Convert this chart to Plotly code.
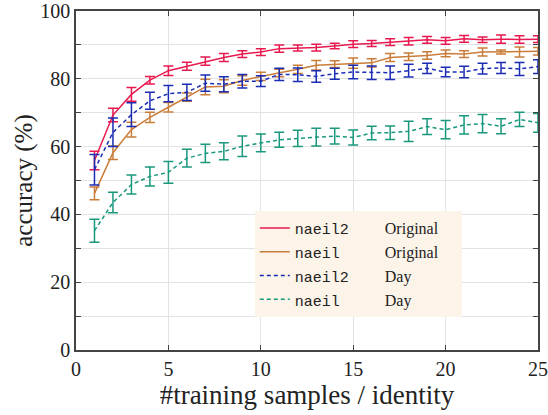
import plotly.graph_objects as go

x_vals = list(range(1, 26))

naeil2_orig = [55.9, 69.3, 75.4, 79.6, 82.4, 83.7, 85.2, 86.3, 87.3, 87.9, 88.9, 89.1, 89.2,
               89.7, 90.2, 90.4, 90.8, 91.1, 91.5, 91.2, 91.8, 91.5, 91.7, 91.6, 91.7]
naeil2_orig_err = [2.7, 2.0, 2.0, 1.1, 1.4, 1.2, 1.2, 1.2, 1.0, 1.0, 1.1, 0.9, 1.0,
                   0.8, 1.0, 0.9, 1.0, 1.1, 1.0, 1.0, 1.0, 0.8, 1.2, 1.1, 1.0]

naeil_orig = [46.2, 58.2, 65.0, 68.6, 71.6, 74.6, 77.6, 77.8, 79.5, 80.7, 81.7, 82.8, 84.0,
              84.3, 84.6, 84.7, 86.3, 86.5, 86.9, 87.5, 87.3, 87.9, 87.9, 87.9, 88.1]
naeil_orig_err = [1.9, 2.0, 2.2, 1.5, 1.4, 1.2, 2.3, 1.9, 1.4, 1.2, 1.1, 1.2, 1.4,
                  1.0, 1.5, 1.2, 1.2, 1.1, 1.1, 1.0, 1.0, 1.2, 0.6, 1.5, 1.1]

naeil2_day = [53.2, 64.2, 69.4, 73.5, 75.6, 76.0, 78.7, 78.4, 79.3, 79.3, 81.3, 81.2, 80.7,
              81.5, 82.0, 81.8, 81.8, 82.4, 83.1, 82.0, 82.0, 83.0, 83.2, 82.9, 83.6]
naeil2_day_err = [4.5, 4.2, 3.5, 2.5, 2.4, 2.4, 2.4, 2.2, 2.0, 1.6, 1.8, 2.0, 1.7,
                  1.6, 2.0, 2.0, 2.0, 1.9, 1.5, 1.4, 1.7, 1.6, 1.6, 1.9, 2.0]

naeil_day = [35.2, 43.5, 48.8, 51.2, 52.4, 56.6, 58.0, 58.6, 60.1, 61.1, 62.0, 62.4, 62.8,
             63.1, 62.7, 64.0, 64.1, 64.5, 65.9, 65.0, 66.4, 66.8, 66.0, 68.0, 67.0]
naeil_day_err = [3.4, 3.0, 2.8, 2.8, 3.2, 2.6, 2.7, 2.5, 3.0, 2.6, 2.2, 2.4, 2.6,
                 2.3, 2.2, 2.0, 2.0, 3.0, 2.3, 2.7, 2.7, 2.7, 2.2, 2.1, 2.8]

series_names = ["naeil2", "naeil", "naeil2", "naeil"]
series_cond = ["Original", "Original", "Day", "Day"]
series_colors = ["#e8194f", "#c97d3a", "#1b2db5", "#19987e"]
series_dash = ["solid", "solid", "4px,3px", "4px,3px"]
series_vals = [naeil2_orig, naeil_orig, naeil2_day, naeil_day]
series_errs = [naeil2_orig_err, naeil_orig_err, naeil2_day_err, naeil_day_err]

SERIF = "Liberation Serif"
MONO = "Liberation Mono"

fig = go.Figure()
for name, cond, col, dash, vals, errs in zip(series_names, series_cond, series_colors,
                                             series_dash, series_vals, series_errs):
    pad = "\u00a0" * (10 - len(name))
    label = (f"<span style='font-family:{MONO};font-size:15px'>{name}{pad}</span>"
             f"{cond}<span style='font-family:{MONO};font-size:15px'>\u00a0\u00a0</span>")
    fig.add_trace(go.Scatter(
        x=x_vals, y=vals, mode="lines", name=label,
        line=dict(color=col, width=1.5, dash=dash),
        error_y=dict(type="data", array=errs, visible=True, color=col,
                     thickness=1.5, width=5),
    ))

axis_common = dict(
    showline=True, linecolor="#444444", linewidth=1.5, mirror="ticks",
    ticks="inside", tickcolor="#444444", ticklen=5, tickwidth=1.2,
    showgrid=True, gridcolor="#e3e3e3", gridwidth=1, zeroline=False,
    tickfont=dict(family=SERIF, size=20, color="#222222"),
    automargin=False,
)

fig.update_layout(
    width=548, height=415,
    margin=dict(l=76, r=10, t=11, b=65),
    paper_bgcolor="white", plot_bgcolor="white",
    font=dict(family=SERIF, color="#222222"),
    xaxis=dict(range=[0, 25], tick0=0, dtick=5,
               title=dict(text="#training samples / identity",
                          font=dict(family=SERIF, size=27), standoff=5),
               **axis_common),
    yaxis=dict(range=[0, 100], tick0=0, dtick=20,
               minor=dict(dtick=10, ticks="inside", ticklen=5, tickcolor="#444444",
                          showgrid=True, gridcolor="#e3e3e3"),
               title=dict(text="accuracy (%)", font=dict(family=SERIF, size=25), standoff=1),
               **axis_common),
    legend=dict(x=0.387, y=0.41, xanchor="left", yanchor="top",
                bgcolor="#fcf4e8", borderwidth=0,
                font=dict(family=SERIF, size=16, color="#222222"),
                tracegroupgap=0, itemwidth=30),
    showlegend=True,
)

fig.write_html("out.html", config={"displayModeBar": False},
               post_script="document.body.style.margin='0';document.body.style.overflow='hidden';")
